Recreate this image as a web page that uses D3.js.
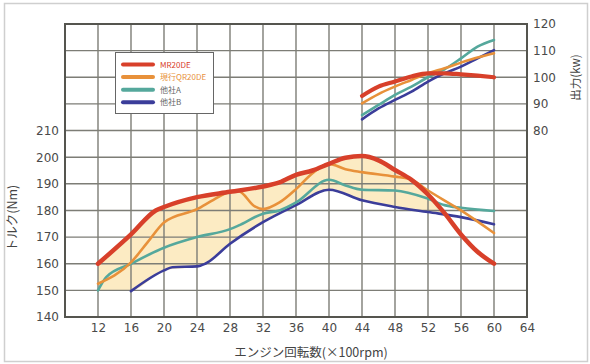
<!DOCTYPE html>
<html><head><meta charset="utf-8">
<script src="https://cdn.jsdelivr.net/npm/d3@7"></script>
<style>
html,body{margin:0;padding:0;background:#fff;}
svg{display:block;}
text{font-family:"DejaVu Sans",sans-serif;}
.jp{font-family:"Noto Sans CJK JP","Noto Sans",sans-serif;}
</style></head>
<body>
<svg id="c" width="590" height="364"></svg>
<script>
// ---- data ----
const xTicks = [12,16,20,24,28,32,36,40,44,48,52,56,60,64];
const torqueTicks = [140,150,160,170,180,190,200,210];
const powerTicks = [80,90,100,110,120];
const seriesNames = ["MR20DE","現行QR20DE","他社A","他社B"];
const seriesColors = ["#d8402a","#e8913a","#55a89c","#3b3d9a"];

// torque [rpm(x100), Nm]
const torqueMR = [[12,160],[16,171],[19,180],[20,181.3],[24,185],[28,187],[32,189],[34,190.5],[36,193.4],[38,195],[40,197.5],[42,199.8],[44,200.4],[46,198.8],[48,195.2],[50,191.5],[52,186],[54,179],[56,171],[58,164.5],[60,160]];
const torqueQR = [[12,152.5],[16,160.5],[18,168],[20,175.5],[24,180.5],[26,184],[28,187],[29,187.3],[31,181.5],[32,180.5],[34,183],[36,188],[38,194],[40,197.5],[42,195.5],[44,194.4],[48,192.7],[50,191.5],[52,187.5],[56,180],[60,171.5]];
const torqueA = [[12,150],[13,155],[16,160],[20,166],[24,170],[28,173],[29,174.3],[32,178.8],[34,180],[36,183],[40,191.5],[42,189.4],[44,187.8],[48,187.5],[52,184.4],[54,182],[56,181],[60,179.8]];
const torqueB = [[16,149.7],[20,157.5],[21,158.7],[24,159],[25,160],[28,167.5],[32,175.6],[36,182],[40,187.8],[44,183.8],[48,181.3],[52,179.4],[56,177.5],[60,174.8]];

// shaded band [rpm, low, high]
const bandData = [[12,150,160],[16,150,171],[20,157.5,181.3],[24,159,185],[28,167.5,187],[32,175.6,189],[36,182,193.4],[40,187.8,197.5],[44,183.8,200.4],[48,181.3,195.2],[52,179.4,186],[53.6,179,179]];

// power [rpm(x100), kW]
const powerMR = [[44,93],[46,96.5],[48,98.4],[50,100.3],[52,101.5],[54,101.5],[56,101.1],[58,100.6],[60,100]];
const powerQR = [[44,90.2],[46,93.7],[48,96.5],[50,99],[52,101.5],[54,103.4],[56,105.5],[58,107.4],[60,109]];
const powerA = [[44,85.8],[46,89.6],[48,93.4],[50,96.5],[52,100],[54,103],[56,107.1],[58,111.5],[60,114]];
const powerB = [[44,84.2],[46,88.3],[48,91.5],[50,94.6],[52,98.4],[54,101.5],[56,104],[58,107.1],[60,110.2]];

// ---- chart ----
const svg = d3.select("#c");
const x = d3.scaleLinear().domain([8,64]).range([65,527]);
const yL = d3.scaleLinear().domain([140,250]).range([317,24]);
const yR = d3.scaleLinear().domain([10,120]).range([317,24]);

// outer border
svg.append("rect").attr("x",4.5).attr("y",3.5).attr("width",583).attr("height",358)
  .attr("fill","#fff").attr("stroke","#cfcfcf").attr("stroke-width",1.5);

// band
svg.append("path").datum(bandData)
  .attr("fill","#fcebc3")
  .attr("d", d3.area().x(d=>x(d[0])).y0(d=>yL(d[1])).y1(d=>yL(d[2])).curve(d3.curveMonotoneX));

// grid
const g = svg.append("g");
g.selectAll(".v").data(d3.range(8,65,4)).join("line")
  .attr("x1",d=>x(d)).attr("x2",d=>x(d)).attr("y1",yL(250)).attr("y2",yL(140))
  .attr("stroke","#7d7d76").attr("stroke-width",1.4);
g.selectAll(".h").data(d3.range(140,251,10)).join("line")
  .attr("y1",d=>yL(d)).attr("y2",d=>yL(d)).attr("x1",x(8)).attr("x2",x(64))
  .attr("stroke","#7d7d76").attr("stroke-width",1.4);
svg.append("rect").attr("x",x(8)).attr("y",yL(250)).attr("width",x(64)-x(8)).attr("height",yL(140)-yL(250))
  .attr("fill","none").attr("stroke","#55554f").attr("stroke-width",2);

// axes
const fs = "12px";
const ax = svg.append("g").attr("transform",`translate(0,${yL(140)})`)
  .call(d3.axisBottom(x).tickValues(xTicks).tickSize(0).tickPadding(6));
const ay = svg.append("g").attr("transform",`translate(${x(8)},0)`)
  .call(d3.axisLeft(yL).tickValues(torqueTicks).tickSize(0).tickPadding(6));
const ar = svg.append("g").attr("transform",`translate(${x(64)},0)`)
  .call(d3.axisRight(yR).tickValues(powerTicks).tickSize(0).tickPadding(6));
[ax,ay,ar].forEach(a=>{
  a.select(".domain").remove();
  a.selectAll("text").attr("font-size",fs).attr("fill","#4a4a4a").attr("font-family","DejaVu Sans");
});

// lines
const lineT = d3.line().x(d=>x(d[0])).y(d=>yL(d[1])).curve(d3.curveMonotoneX);
const lineP = d3.line().x(d=>x(d[0])).y(d=>yR(d[1])).curve(d3.curveMonotoneX);
const torque = [torqueMR,torqueQR,torqueA,torqueB];
const power = [powerMR,powerQR,powerA,powerB];
const widths = [4.5,2.6,2.6,2.6];
[3,2,1,0].forEach(i=>{
  svg.append("path").datum(torque[i]).attr("d",lineT).attr("fill","none")
    .attr("stroke",seriesColors[i]).attr("stroke-width",widths[i]).attr("stroke-linejoin","round").attr("stroke-linecap","round");
  svg.append("path").datum(power[i]).attr("d",lineP).attr("fill","none")
    .attr("stroke",seriesColors[i]).attr("stroke-width",i===0?4.2:2.6).attr("stroke-linejoin","round").attr("stroke-linecap","round");
});

// legend
const lg = svg.append("g");
lg.append("rect").attr("x",115.5).attr("y",52.5).attr("width",98).attr("height",61)
  .attr("fill","#fff").attr("stroke","#666").attr("stroke-width",1);
const legendText = ["#d8402a","#e8913a","#666","#666"];
seriesNames.forEach((n,i)=>{
  const yy = 64.5 + i*12.6;
  lg.append("line").attr("x1",123).attr("x2",153).attr("y1",yy).attr("y2",yy)
    .attr("stroke",seriesColors[i]).attr("stroke-width",4).attr("stroke-linecap","round");
  lg.append("text").attr("class","jp").attr("x",160).attr("y",yy+3)
    .attr("font-size","8px").attr("fill",legendText[i]).text(n);
});

// titles
svg.append("text").attr("class","jp").attr("transform","translate(16.5,218) rotate(-90)")
  .attr("text-anchor","middle").attr("font-size","12.5px").attr("fill","#444").text("トルク(Nm)");
svg.append("text").attr("class","jp").attr("transform","translate(580,77.5) rotate(-90)")
  .attr("text-anchor","middle").attr("font-size","11.5px").attr("fill","#444").text("出力(kw)");
svg.append("text").attr("class","jp").attr("x",311).attr("y",357)
  .attr("text-anchor","middle").attr("font-size","12.5px").attr("fill","#444").text("エンジン回転数(×100rpm)");
</script>
</body></html>
